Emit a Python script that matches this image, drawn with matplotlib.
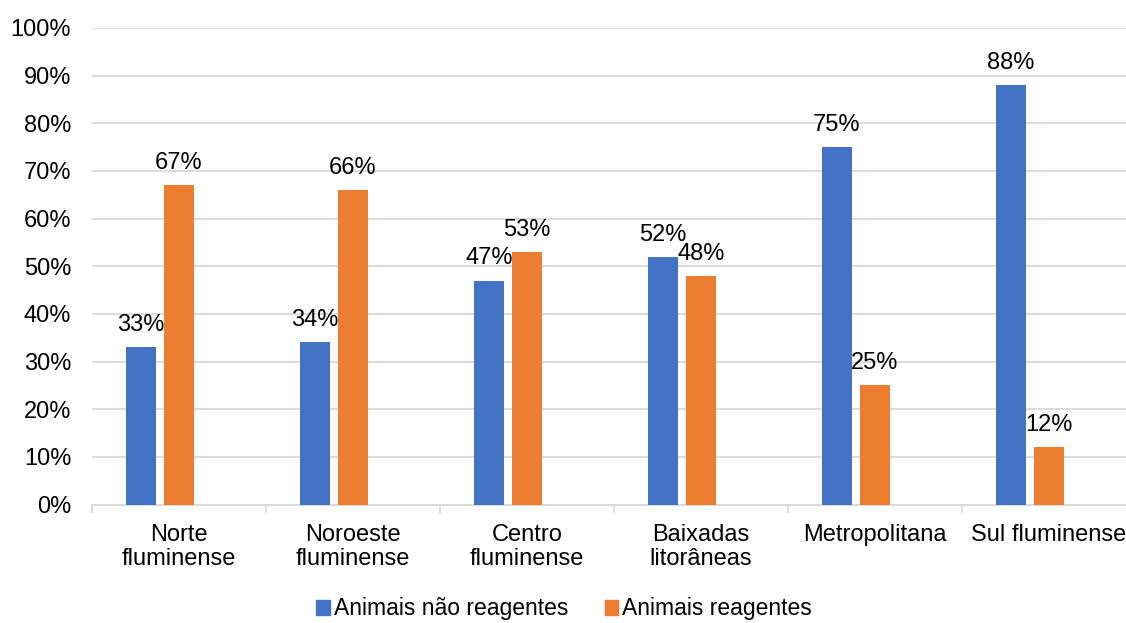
import matplotlib
matplotlib.use("Agg")
import matplotlib.pyplot as plt
import numpy as np
from matplotlib.patches import Patch
from matplotlib.ticker import FixedLocator, PercentFormatter

plt.rcParams['font.family'] = ['Liberation Sans', 'DejaVu Sans']

# dados
regioes = ['Norte\nfluminense', 'Noroeste\nfluminense', 'Centro\nfluminense',
           'Baixadas\nlitorâneas', 'Metropolitana', 'Sul fluminense']
nao_reagentes = [33, 34, 47, 52, 75, 88]
reagentes = [67, 66, 53, 48, 25, 12]
series_nomes = ['Animais não reagentes', 'Animais reagentes']

azul = '#4472C4'
laranja = '#ED7D31'
cinza = '#d9d9d9'
fs = 17

fig = plt.figure(figsize=(11.26, 6.23), dpi=100)
ax = fig.add_axes([92/1126, 118.5/623, 1044/1126, 476.5/623])

x = np.arange(len(regioes))
largura = 0.173
desloc = 0.219

b1 = ax.bar(x - desloc, nao_reagentes, largura, color=azul, zorder=3)
b2 = ax.bar(x, reagentes, largura, color=laranja, zorder=3)

for barras in (b1, b2):
    ax.bar_label(barras, labels=[f'{v:.0f}%' for v in barras.datavalues],
                 padding=8, fontsize=fs, color='#000000')

ax.set_xlim(-0.5, len(regioes) - 0.5)
ax.set_ylim(0, 100)
ax.set_yticks(np.arange(0, 101, 10))
ax.yaxis.set_major_formatter(PercentFormatter(decimals=0))
ax.grid(axis='y', color=cinza, linewidth=1.3, zorder=0)

for lado in ['left', 'right', 'top']:
    ax.spines[lado].set_visible(False)
ax.spines['bottom'].set_color(cinza)
ax.spines['bottom'].set_linewidth(1.3)

ax.set_xticks(x)
ax.set_xticklabels(regioes, fontsize=fs, linespacing=1.12)
ax.xaxis.set_minor_locator(FixedLocator(np.arange(-0.5, len(regioes), 1)))
ax.tick_params(axis='x', which='major', length=0, pad=14)
ax.tick_params(axis='x', which='minor', length=6, color=cinza, width=1.3)
ax.tick_params(axis='y', length=0, labelsize=fs, pad=15)

handles = [Patch(color=azul), Patch(color=laranja)]
fig.legend(handles, series_nomes, loc='center', bbox_to_anchor=(564/1126, 1 - 609/623),
           ncol=2, frameon=False, fontsize=16.5, handlelength=0.6, handleheight=0.6,
           handletextpad=0.15, columnspacing=1.6, borderpad=0.1)

fig.savefig('out.png', dpi=100)
